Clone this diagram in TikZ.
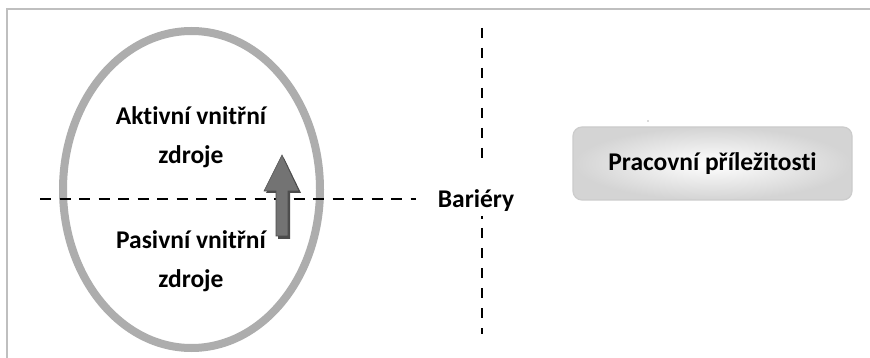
\documentclass[tikz,border=0pt]{standalone}
\usepackage{fontspec}
\setmainfont{Carlito}[RawFeature={-liga}]
\begin{document}
\begin{tikzpicture}[x=1pt,y=-1pt,
  frameline/.style={draw=black!25,line width=1.4pt},
  ring/.style={draw=black!32,line width=8pt},
  barrier/.style={draw=black,line width=2.6pt},
  label/.style={font=\bfseries\fontsize{25.5}{30}\selectfont,text=black,align=center},
  pill/.style={rounded corners=9pt,draw=black!20,line width=1.2pt,
    inner color=white,outer color=black!17,minimum width=279pt,minimum height=73pt}]
  \useasboundingbox (0,0) rectangle (870,358);
  \fill[white] (0,0) rectangle (870,358);
  % frame
  \draw[frameline] (7,358) -- (7,9) -- (870,9);
  % sources ellipse
  \draw[ring] (191.5,189.5) ellipse [x radius=128.5, y radius=158.5];
  % barriers
  \draw[barrier,dash pattern=on 11pt off 8.5pt] (40,199) -- (416,199);
  \draw[barrier,dash pattern=on 10pt off 10pt] (482,28) -- (482,162);
  \draw[barrier] (482,216) -- (482,219);
  \draw[barrier,dash pattern=on 10pt off 10pt] (482,228) -- (482,334);
  % upward arrow with shadow
  \fill[black!70] (284,158) -- (301,193) -- (290,193) -- (290,239) -- (278,239) -- (278,193) -- (266,193) -- cycle;
  \filldraw[fill=black!55,draw=black!70,line width=0.6pt]
    (282,155) -- (299,191) -- (288,191) -- (288,236) -- (276,236) -- (276,191) -- (264,191) -- cycle;
  % labels
  \node[label] (act1) at (191,116) {Aktivní vnitřní};
  \node[label] (act2) at (191,157) {zdroje};
  \node[label] (pas1) at (191,240) {Pasivní vnitřní};
  \node[label] (pas2) at (191,281) {zdroje};
  \node[label] (bar) at (476,201) {Bariéry};
  \node[pill,label] (job) at (712.5,163.5) {Pracovní příležitosti};
  \fill[black!60] (648,121) circle (0.7);
\end{tikzpicture}
\end{document}
